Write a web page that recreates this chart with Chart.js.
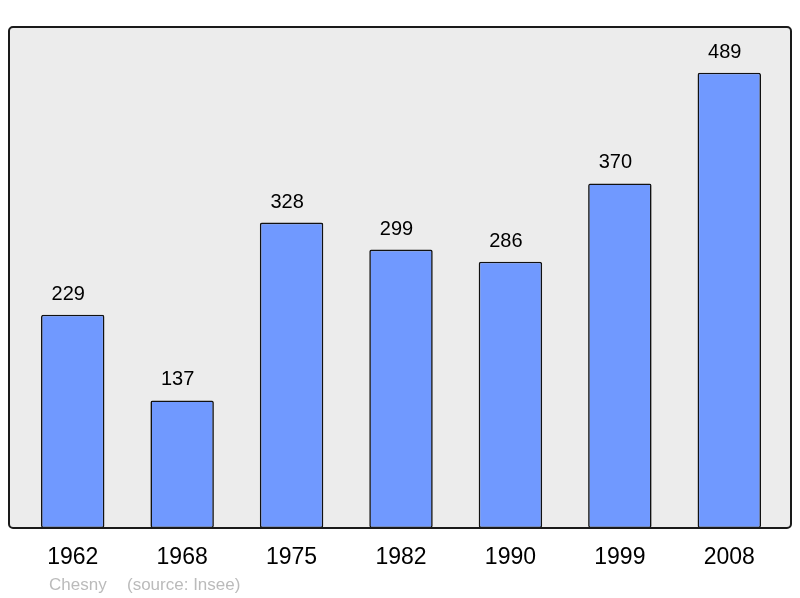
<!DOCTYPE html>
<html>
<head>
<meta charset="utf-8">
<script src="https://cdn.jsdelivr.net/npm/chart.js@4/dist/chart.umd.min.js"></script>
<style>
  html, body { margin: 0; padding: 0; background: #fff; }
  #wrap { width: 800px; height: 598px; }
</style>
</head>
<body>
<div id="wrap"><canvas id="chart" width="800" height="598"></canvas></div>
<script>
const years = ['1962', '1968', '1975', '1982', '1990', '1999', '2008'];
const population = [229, 137, 328, 299, 286, 370, 489];
const footerTexts = ['Chesny', '(source: Insee)'];

const FONT = "'Liberation Sans', Arial, sans-serif";

// gray rounded panel behind the bars
const panelPlugin = {
  id: 'panel',
  beforeDatasetsDraw(chart) {
    const { ctx, chartArea } = chart;
    const l = chartArea.left - 9, r = chartArea.right + 7;
    const t = chartArea.top, b = chartArea.bottom;
    ctx.save();
    ctx.beginPath();
    ctx.roundRect(l, t, r - l, b - t, 4);
    ctx.fillStyle = '#ececec';
    ctx.fill();
    ctx.restore();
  },
  afterDatasetsDraw(chart) {
    const { ctx, chartArea } = chart;
    const l = chartArea.left - 9, r = chartArea.right + 7;
    const t = chartArea.top, b = chartArea.bottom;
    ctx.save();
    ctx.beginPath();
    ctx.roundRect(l, t, r - l, b - t, 4);
    ctx.lineWidth = 2;
    ctx.strokeStyle = '#1a1a1a';
    ctx.stroke();
    ctx.restore();
  }
};

// numbers above the bars (sit a little left of centre, like the original)
const valueLabels = {
  id: 'valueLabels',
  afterDatasetsDraw(chart) {
    const ctx = chart.ctx;
    const meta = chart.getDatasetMeta(0);
    ctx.save();
    ctx.font = '20px ' + FONT;
    ctx.fillStyle = '#000';
    ctx.textAlign = 'center';
    ctx.textBaseline = 'alphabetic';
    meta.data.forEach((bar, i) => {
      ctx.fillText(String(population[i]), bar.x - 4.5, bar.y - 15);
    });
    ctx.restore();
  }
};

const footer = {
  id: 'footer',
  afterDraw(chart) {
    const ctx = chart.ctx;
    ctx.save();
    ctx.font = '17px ' + FONT;
    ctx.fillStyle = '#bbbbbb';
    ctx.textBaseline = 'alphabetic';
    ctx.fillText(footerTexts[0], 49, 590);
    ctx.fillText(footerTexts[1], 127, 590);
    ctx.restore();
  }
};

new Chart(document.getElementById('chart'), {
  type: 'bar',
  data: {
    labels: years,
    datasets: [{
      data: population,
      backgroundColor: '#7099ff',
      borderColor: '#111',
      borderWidth: 1.6,
      borderRadius: 2,
      borderSkipped: false,
      categoryPercentage: 1,
      barPercentage: 0.58
    }]
  },
  options: {
    responsive: false,
    animation: false,
    layout: { padding: { left: 18, right: 16, top: 27, bottom: 0 } },
    plugins: {
      legend: { display: false },
      tooltip: { enabled: false }
    },
    scales: {
      y: { display: false, min: 0, max: 538 },
      x: {
        grid: { display: false, drawTicks: false },
        border: { display: false },
        ticks: {
          color: '#000',
          font: { family: FONT, size: 23 },
          padding: 16,
          maxRotation: 0
        },
        afterFit(scale) { scale.height = 70; }
      }
    }
  },
  plugins: [panelPlugin, valueLabels, footer]
});
</script>
</body>
</html>
